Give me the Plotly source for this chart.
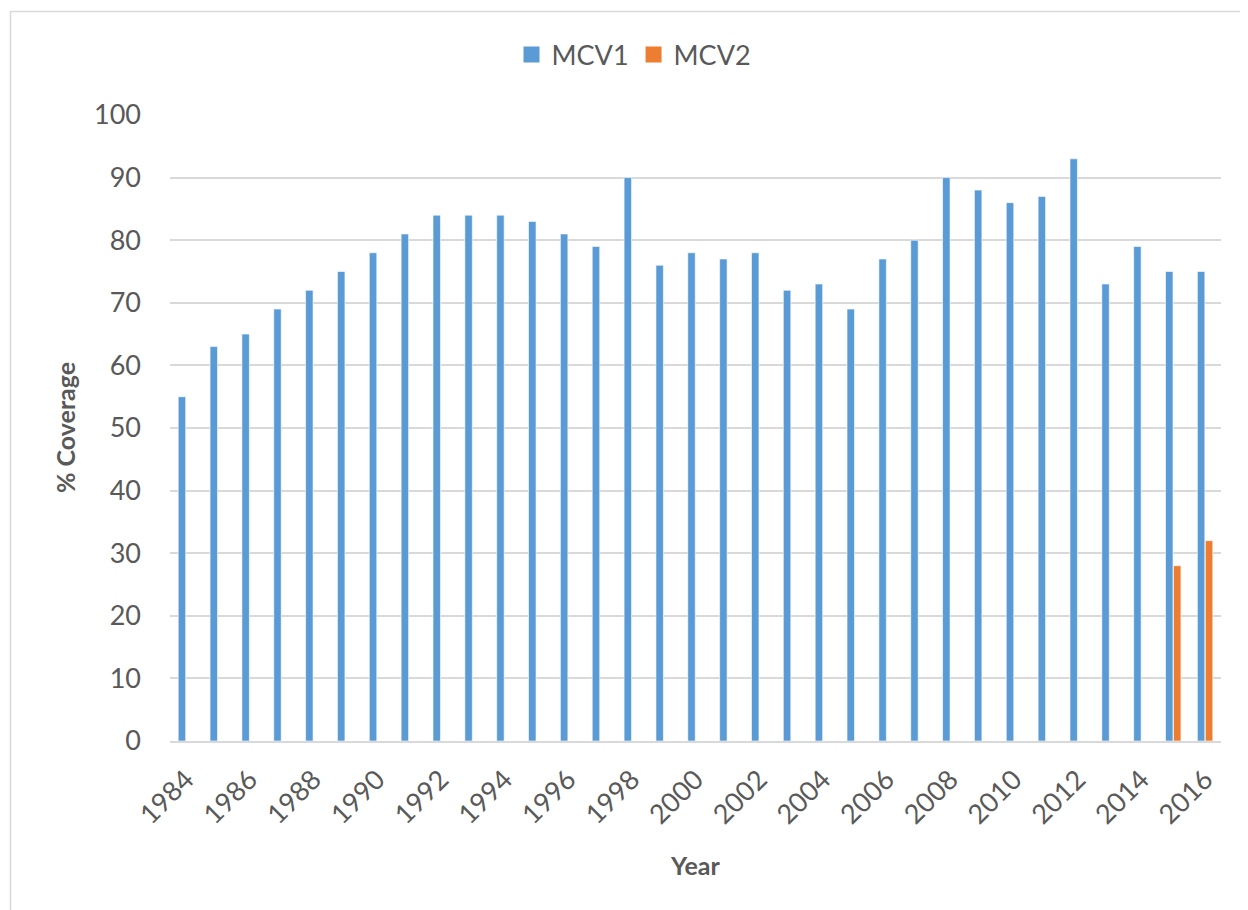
import plotly.graph_objects as go

years = [str(y) for y in range(1984, 2017)]
mcv1 = [55, 63, 65, 69, 72, 75, 78, 81, 84, 84, 84, 83, 81, 79, 90, 76, 78, 77, 78,
        72, 73, 69, 77, 80, 90, 88, 86, 87, 93, 73, 79, 75, 75]
mcv2_years = ["2015", "2016"]
mcv2 = [28, 32]
tick_years = years[::2]
y_ticks = list(range(0, 101, 10))

mcv2_full = [None] * len(years)
for yr, v in zip(mcv2_years, mcv2):
    mcv2_full[years.index(yr)] = v

FONT = "Lato"
GREY = "#595959"
BLUE = "#5B9BD5"
ORANGE = "#ED7D31"

fig = go.Figure()
fig.add_trace(go.Bar(x=years, y=mcv1, name="MCV1", marker_color=BLUE,
                     marker_line_color="white", marker_line_width=0.6, showlegend=False))
fig.add_trace(go.Bar(x=years, y=mcv2_full, name="MCV2", marker_color=ORANGE,
                     marker_line_color="white", marker_line_width=0.6, showlegend=False))
# legend entries with large square keys
for name, col in [("MCV1", BLUE), ("MCV2", ORANGE)]:
    fig.add_trace(go.Scatter(x=[None], y=[None], mode="markers", name=name,
                             marker=dict(symbol="square", size=18, color=col)))

OFF = 8  # page body margin
W, H = 1240, 902
L, T = 170 - OFF, 115 - OFF
R = W - (1221 - OFF)
B = H - (741 - OFF)
pw, ph = W - L - R, H - T - B

def px_x(px):
    return (px - OFF - L) / pw

def px_y(py):
    return (H - B - (py - OFF)) / ph

fig.update_layout(
    width=W, height=H,
    margin=dict(l=L, r=R, t=T, b=B, autoexpand=False),
    paper_bgcolor="white", plot_bgcolor="white",
    barmode="group", bargap=0.5, bargroupgap=0.06,
    font=dict(family=FONT, color=GREY, size=27),
    showlegend=True,
    legend=dict(orientation="h", x=px_x(634), y=px_y(55), xanchor="center", yanchor="middle",
                font=dict(size=27, color=GREY), itemsizing="trace", traceorder="normal",
                itemwidth=30, bgcolor="rgba(0,0,0,0)"),
    xaxis=dict(type="category", tickmode="array", tickvals=tick_years, ticktext=tick_years,
               tickangle=-45, showgrid=False, showline=True, linecolor="#D9D9D9", linewidth=2,
               ticks="", tickfont=dict(size=27, color=GREY), ticklabelstandoff=10,
               range=[-0.5, len(years) - 0.5]),
    yaxis=dict(range=[0, 100], tickmode="array", tickvals=y_ticks, showgrid=True,
               gridcolor="#D9D9D9", gridwidth=1.5, zeroline=False, showline=False,
               ticks="", tickfont=dict(size=27, color=GREY), ticklabelstandoff=28),
    annotations=[
        dict(text="<b>% Coverage</b>", x=px_x(65), y=px_y(428), xref="paper", yref="paper",
             showarrow=False, textangle=-90, font=dict(size=25, color=GREY, family=FONT),
             xanchor="center", yanchor="middle"),
        dict(text="<b>Year</b>", x=px_x(695), y=px_y(865), xref="paper", yref="paper",
             showarrow=False, font=dict(size=25, color=GREY, family=FONT),
             xanchor="center", yanchor="middle"),
    ],
    shapes=[
        dict(type="rect", xref="paper", yref="paper",
             x0=px_x(10.5), x1=px_x(1290), y0=px_y(960), y1=px_y(11.5),
             line=dict(color="#D9D9D9", width=1.5), fillcolor="rgba(0,0,0,0)", layer="below"),
    ],
)

fig.write_html("out.html")
